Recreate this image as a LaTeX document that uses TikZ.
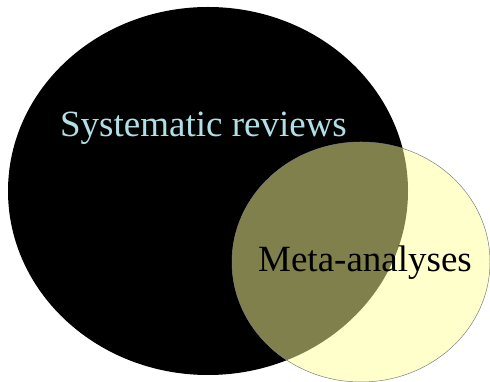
\documentclass[tikz,border=0pt]{standalone}
\usepackage{fontspec}
\setmainfont{Liberation Serif}
\definecolor{srblue}{RGB}{176,224,230}
\definecolor{mayellow}{RGB}{255,255,153}
\tikzset{
  setB/.style={fill=mayellow, fill opacity=0.5, draw=gray, line width=0.5pt},
  lbl/.style={font=\fontsize{37}{41}\selectfont, anchor=base, inner sep=0pt}
}
\begin{document}
\begin{tikzpicture}[x=1pt,y=1pt]
\useasboundingbox (0,0) rectangle (490,382);
\fill[black] (208,191) ellipse [x radius=200, y radius=184];
\path[setB] (361,120) ellipse [x radius=129, y radius=120];
\node[lbl, text=srblue] (sr) at (203.5,245) {Systematic reviews};
\node[lbl, text=black] (ma) at (365,110) {Meta-analyses};
\end{tikzpicture}
\end{document}
